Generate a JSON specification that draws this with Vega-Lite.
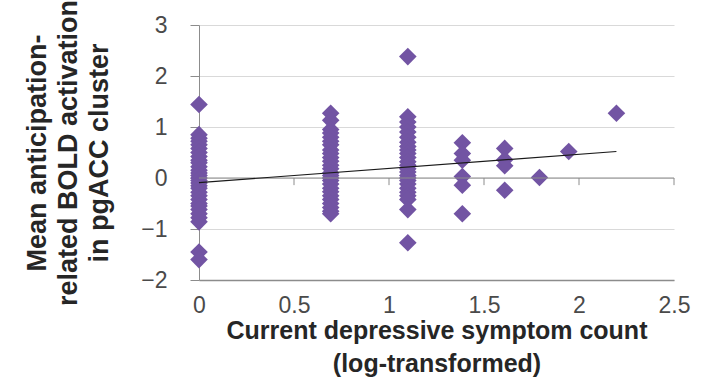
{
  "$schema": "https://vega.github.io/schema/vega-lite/v6.json",
  "autosize": "none",
  "width": 475,
  "height": 255,
  "padding": {"left": 199, "top": 25, "right": 31, "bottom": 110},
  "background": "white",
  "config": {
    "view": {"stroke": null},
    "font": "Liberation Sans"
  },
  "datasets": {
    "points": [
      {"x": 0, "y": 1.44}, {"x": 0, "y": 0.85}, {"x": 0, "y": 0.78}, {"x": 0, "y": 0.72}, {"x": 0, "y": 0.65},
      {"x": 0, "y": 0.58}, {"x": 0, "y": 0.5}, {"x": 0, "y": 0.42}, {"x": 0, "y": 0.35}, {"x": 0, "y": 0.3},
      {"x": 0, "y": 0.22}, {"x": 0, "y": 0.15}, {"x": 0, "y": 0.1}, {"x": 0, "y": 0.05}, {"x": 0, "y": 0.0},
      {"x": 0, "y": -0.05}, {"x": 0, "y": -0.1}, {"x": 0, "y": -0.15}, {"x": 0, "y": -0.2}, {"x": 0, "y": -0.28},
      {"x": 0, "y": -0.35}, {"x": 0, "y": -0.42}, {"x": 0, "y": -0.5}, {"x": 0, "y": -0.55}, {"x": 0, "y": -0.62},
      {"x": 0, "y": -0.7}, {"x": 0, "y": -0.78}, {"x": 0, "y": -0.86}, {"x": 0, "y": -1.45}, {"x": 0, "y": -1.6},
      {"x": 0.693, "y": 1.27}, {"x": 0.693, "y": 1.13}, {"x": 0.693, "y": 0.95}, {"x": 0.693, "y": 0.88}, {"x": 0.693, "y": 0.8},
      {"x": 0.693, "y": 0.72}, {"x": 0.693, "y": 0.65}, {"x": 0.693, "y": 0.55}, {"x": 0.693, "y": 0.48}, {"x": 0.693, "y": 0.4},
      {"x": 0.693, "y": 0.33}, {"x": 0.693, "y": 0.25}, {"x": 0.693, "y": 0.18}, {"x": 0.693, "y": 0.1}, {"x": 0.693, "y": 0.05},
      {"x": 0.693, "y": 0.0}, {"x": 0.693, "y": -0.05}, {"x": 0.693, "y": -0.12}, {"x": 0.693, "y": -0.2}, {"x": 0.693, "y": -0.27},
      {"x": 0.693, "y": -0.35}, {"x": 0.693, "y": -0.42}, {"x": 0.693, "y": -0.5}, {"x": 0.693, "y": -0.58}, {"x": 0.693, "y": -0.65},
      {"x": 0.693, "y": -0.7},
      {"x": 1.099, "y": 2.38}, {"x": 1.099, "y": 1.2}, {"x": 1.099, "y": 1.1}, {"x": 1.099, "y": 1.0}, {"x": 1.099, "y": 0.9},
      {"x": 1.099, "y": 0.8}, {"x": 1.099, "y": 0.7}, {"x": 1.099, "y": 0.62}, {"x": 1.099, "y": 0.55}, {"x": 1.099, "y": 0.48},
      {"x": 1.099, "y": 0.4}, {"x": 1.099, "y": 0.32}, {"x": 1.099, "y": 0.25}, {"x": 1.099, "y": 0.18}, {"x": 1.099, "y": 0.12},
      {"x": 1.099, "y": 0.05}, {"x": 1.099, "y": 0.0}, {"x": 1.099, "y": -0.05}, {"x": 1.099, "y": -0.12}, {"x": 1.099, "y": -0.2},
      {"x": 1.099, "y": -0.28}, {"x": 1.099, "y": -0.35}, {"x": 1.099, "y": -0.42}, {"x": 1.099, "y": -0.62}, {"x": 1.099, "y": -1.27},
      {"x": 1.386, "y": 0.69}, {"x": 1.386, "y": 0.48}, {"x": 1.386, "y": 0.35}, {"x": 1.386, "y": 0.03}, {"x": 1.386, "y": -0.14},
      {"x": 1.386, "y": -0.7},
      {"x": 1.609, "y": 0.58}, {"x": 1.609, "y": 0.36}, {"x": 1.609, "y": 0.24}, {"x": 1.609, "y": -0.24},
      {"x": 1.792, "y": 0.01},
      {"x": 1.946, "y": 0.52},
      {"x": 2.197, "y": 1.27}
    ],
    "trend": [
      {"x": 0, "y": -0.09},
      {"x": 2.197, "y": 0.52}
    ],
    "zeroTicks": [
      {"x": 0.5}, {"x": 1}, {"x": 1.5}, {"x": 2}, {"x": 2.5}
    ]
  },
  "layer": [
    {
      "data": {"name": "points"},
      "mark": {"type": "point", "shape": "diamond", "filled": true, "size": 310, "color": "#7254a3", "opacity": 1, "strokeWidth": 0},
      "encoding": {
        "x": {
          "field": "x", "type": "quantitative",
          "scale": {"domain": [0, 2.5], "nice": false, "zero": false},
          "axis": {
            "values": [0, 0.5, 1, 1.5, 2, 2.5],
            "format": "~g",
            "grid": false,
            "ticks": false,
            "tickSize": 0,
            "domain": true,
            "domainColor": "#8c8c8c",
            "domainWidth": 1.5,
            "labelFont": "Liberation Sans",
            "labelFontSize": 23,
            "labelColor": "#4a4a4a",
            "labelPadding": 14,
            "labelFlush": false,
            "labelBaseline": "top",
            "title": ["Current depressive symptom count", "(log-transformed)"],
            "titleFont": "Liberation Sans",
            "titleFontSize": 25,
            "titleFontWeight": "bold",
            "titleColor": "#262626",
            "titleLineHeight": 33,
            "titleBaseline": "top",
            "titleAlign": "center",
            "titleX": 237.5,
            "titleY": 38
          }
        },
        "y": {
          "field": "y", "type": "quantitative",
          "scale": {"domain": [-2, 3], "nice": false, "zero": false},
          "axis": {
            "values": [-2, -1, 0, 1, 2, 3],
            "format": "d",
            "grid": true,
            "gridColor": "#d9d9d9",
            "gridWidth": 1,
            "ticks": true,
            "tickSize": 9,
            "tickColor": "#8c8c8c",
            "domain": true,
            "domainColor": "#8c8c8c",
            "labelFont": "Liberation Sans",
            "labelFontSize": 23,
            "labelColor": "#4a4a4a",
            "labelPadding": 23,
            "labelFlush": false,
            "title": ["Mean anticipation-", "related BOLD activation", "in pgACC cluster"],
            "titleFont": "Liberation Sans",
            "titleFontSize": 27,
            "titleFontWeight": "bold",
            "titleColor": "#262626",
            "titleLineHeight": 31,
            "titleAngle": -90,
            "titleBaseline": "bottom",
            "titleAlign": "center",
            "titleX": -148,
            "titleY": 127.5
          }
        }
      }
    },
    {
      "data": {"values": [{"z": 0}]},
      "mark": {"type": "rule", "color": "#8c8c8c", "strokeWidth": 1.2},
      "encoding": {
        "y": {"field": "z", "type": "quantitative"}
      }
    },
    {
      "data": {"name": "zeroTicks"},
      "mark": {"type": "rule", "color": "#8c8c8c", "strokeWidth": 1},
      "encoding": {
        "x": {"field": "x", "type": "quantitative"},
        "y": {"datum": 0},
        "y2": {"datum": -0.14}
      }
    },
    {
      "data": {"name": "trend"},
      "mark": {"type": "line", "color": "#1a1a1a", "strokeWidth": 1.2},
      "encoding": {
        "x": {"field": "x", "type": "quantitative"},
        "y": {"field": "y", "type": "quantitative"}
      }
    }
  ]
}
